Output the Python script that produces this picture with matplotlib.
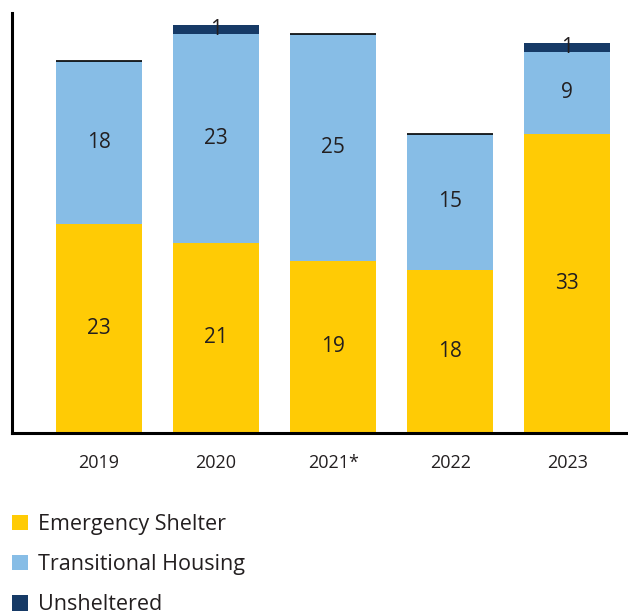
import numpy as np
import matplotlib.pyplot as plt

years = ["2019", "2020", "2021*", "2022", "2023"]
emergency = [23, 21, 19, 18, 33]
transitional = [18, 23, 25, 15, 9]
unsheltered = [0, 1, 0, 0, 1]

c_es = "#FFCB05"
c_th = "#87BDE6"
c_un = "#163A66"
txt = "#231F20"

plt.rcParams["font.family"] = ["Open Sans", "DejaVu Sans"]

fig = plt.figure(figsize=(6.28, 6.13), dpi=100)
ax = fig.add_axes([12 / 628, 1 - 433 / 613, 616 / 628, 420 / 613])

x = np.arange(len(years))
w = 0.73
es = np.array(emergency)
th = np.array(transitional)
un = np.array(unsheltered)

ax.bar(x, es, w, color=c_es, label="Emergency Shelter")
ax.bar(x, th, w, bottom=es, color=c_th, label="Transitional Housing")
ax.bar(x, un, w, bottom=es + th, color=c_un, label="Unsheltered")

# zero-count unsheltered segments show up as a thin cap line
for xi, top, u in zip(x, es + th, un):
    if u == 0:
        ax.hlines(top, xi - w / 2, xi + w / 2, color="black", lw=1.2)

# segment labels
for xi, a, b, c in zip(x, es, th, un):
    ax.text(xi, a / 2, str(a), ha="center", va="center", fontsize=15, color=txt)
    ax.text(xi, a + b / 2, str(b), ha="center", va="center", fontsize=15, color=txt)
    if c > 0:
        ax.text(xi, a + b + c / 2, str(c), ha="center", va="center", fontsize=15, color=txt)

ax.set_xlim(-0.744, 4.52)
ax.set_ylim(0, 46.3)
ax.set_xticks(x)
ax.set_xticklabels(years, fontsize=13, color=txt)
ax.tick_params(axis="x", length=0, pad=15)
ax.set_yticks([])
for s in ["top", "right"]:
    ax.spines[s].set_visible(False)
for s in ["left", "bottom"]:
    ax.spines[s].set_linewidth(2.2)
    ax.spines[s].set_color("black")

fig.legend(loc="upper left", bbox_to_anchor=(12 / 628, 1 - 514 / 613), frameon=False,
           fontsize=15.5, handlelength=0.74, handleheight=0.74, handletextpad=0.45,
           labelspacing=0.89, borderaxespad=0, borderpad=0, labelcolor=txt)

fig.savefig("out.png", dpi=100)
